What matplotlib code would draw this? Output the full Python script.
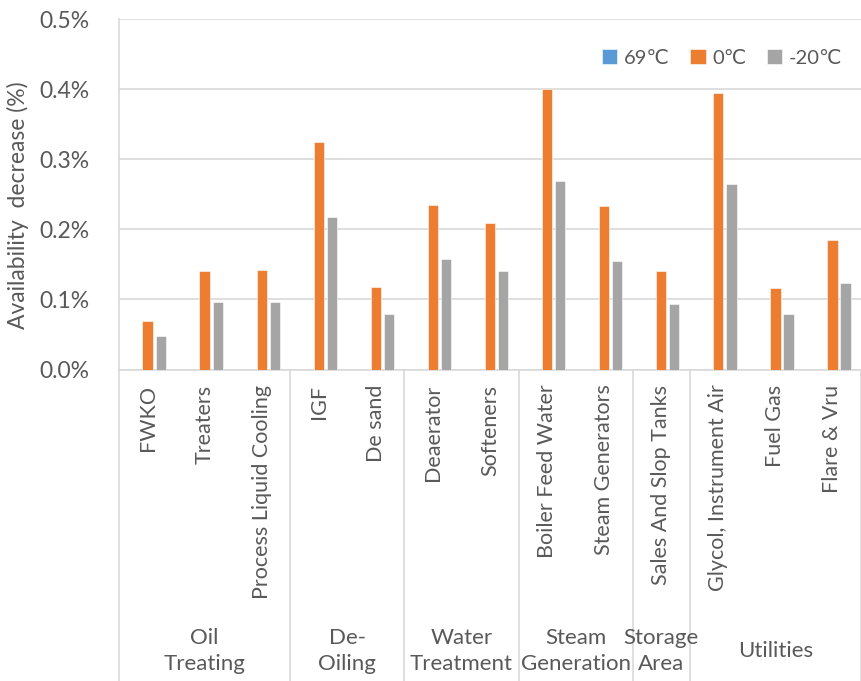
import matplotlib

matplotlib.use('Agg')
import matplotlib.pyplot as plt
import numpy as np

plt.rcParams['font.family'] = ['Lato', 'DejaVu Sans']

UNITS = ['FWKO', 'Treaters', 'Process Liquid Cooling', 'IGF', 'De sand',
         'Deaerator', 'Softeners', 'Boiler Feed Water', 'Steam Generators',
         'Sales And Slop Tanks', 'Glycol, Instrument Air', 'Fuel Gas', 'Flare & Vru']
GROUPS = ['Oil\nTreating', 'De-\nOiling', 'Water\nTreatment', 'Steam\nGeneration',
          'Storage\nArea', 'Utilities']
GROUP_SIZES = [3, 2, 2, 2, 1, 3]

SERIES = ['69℃', '0℃', '-20℃']
# availability decrease, %
T69 = [0, 0, 0, 0, 0, 0, 0, 0, 0, 0, 0, 0, 0]
T0 = [0.069, 0.140, 0.142, 0.324, 0.118, 0.235, 0.209, 0.400, 0.233, 0.140,
      0.395, 0.116, 0.185]
TM20 = [0.048, 0.096, 0.096, 0.218, 0.079, 0.157, 0.140, 0.269, 0.155, 0.094,
        0.265, 0.079, 0.123]

COLORS = ['#5B9BD5', '#ED7D31', '#A5A5A5']
TXT = '#595959'
GRID = '#D9D9D9'
FS = 15.5

W, H = 861, 681
fig = plt.figure(figsize=(W / 100, H / 100), dpi=100)
ax_l, ax_r, ax_t, ax_b = 119, 861, 19, 369.5
ax = fig.add_axes([ax_l / W, 1 - ax_b / H, (ax_r - ax_l) / W, (ax_b - ax_t) / H])

x = np.arange(len(UNITS))
bw, off = 0.18, 0.23
for k, (vals, name) in enumerate(zip([T69, T0, TM20], SERIES)):
    ax.bar(x + (k - 1) * off, vals, bw, color=COLORS[k], label=name,
           edgecolor='white', linewidth=0.4, zorder=3)

ax.set_xlim(-0.5, len(UNITS) - 0.5)
ax.set_ylim(0, 0.5)
ax.set_yticks(np.arange(0, 0.51, 0.1))
ax.set_yticklabels([f'{v:.1f}%' for v in np.arange(0, 0.51, 0.1)],
                   fontsize=16.5, color=TXT)
ax.tick_params(axis='y', length=0, pad=21)
ax.set_xticks([])
ax.grid(axis='y', color=GRID, linewidth=1.2, zorder=0)
for sp in ('top', 'right'):
    ax.spines[sp].set_visible(False)
for sp in ('left', 'bottom'):
    ax.spines[sp].set_color(GRID)
    ax.spines[sp].set_linewidth(1.2)

fig.text(18 / W, 1 - 205 / H, 'Availability  decrease (%)', rotation=90,
         ha='center', va='center', fontsize=16.5, color=TXT)

# two-level category axis
trans = ax.get_xaxis_transform()
depth = -(H - ax_b) / (ax_b - ax_t)
for i, name in enumerate(UNITS):
    ax.text(i, -0.043, name, rotation=90, ha='center', va='top', fontsize=FS,
            color=TXT, transform=trans, clip_on=False)

edges = np.concatenate([[0], np.cumsum(GROUP_SIZES)]) - 0.5
for e in edges:
    ax.plot([e, e], [0, depth], color=GRID, linewidth=1.2, transform=trans,
            clip_on=False)
for g, (a, b) in zip(GROUPS, zip(edges[:-1], edges[1:])):
    ax.text((a + b) / 2, -(651 - ax_b) / (ax_b - ax_t), g, ha='center',
            va='center', fontsize=FS + 0.5, color=TXT, linespacing=1.4,
            transform=trans, clip_on=False)

leg = ax.legend(loc='upper right', bbox_to_anchor=(1.0, 0.965), ncol=3,
                frameon=False, fontsize=14.5, handlelength=0.75, handleheight=0.75,
                handletextpad=0.35, columnspacing=1.0, labelcolor=TXT)

fig.savefig('out.png', dpi=100)
